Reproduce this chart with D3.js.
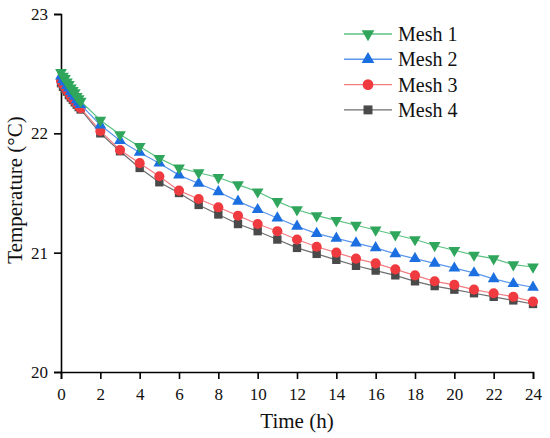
<!DOCTYPE html>
<html>
<head>
<meta charset="utf-8">
<script src="https://cdn.jsdelivr.net/npm/d3@7"></script>
<style>
  body { margin: 0; background: #fff; }
  text { font-family: "Liberation Serif", "Times New Roman", serif; fill: #111; }
</style>
</head>
<body>
<div class="chart"></div>
<script>
// time points: every 0.1 h for the first hour, then hourly
let times = [0, 0.1, 0.2, 0.3, 0.4, 0.5, 0.6, 0.7, 0.8, 0.9, 1,
  2, 3, 4, 5, 6, 7, 8, 9, 10, 11, 12, 13, 14, 15, 16, 17, 18, 19, 20, 21, 22, 23, 24];

let mesh1 = [22.51, 22.48, 22.46, 22.43, 22.41, 22.38, 22.36, 22.34, 22.31, 22.29, 22.27,
  22.11, 21.99, 21.89, 21.79, 21.71, 21.67, 21.63, 21.57, 21.51, 21.43, 21.36, 21.31, 21.27,
  21.23, 21.19, 21.15, 21.11, 21.06, 21.02, 20.98, 20.95, 20.90, 20.88];
let mesh2 = [22.48, 22.45, 22.43, 22.40, 22.38, 22.35, 22.33, 22.31, 22.28, 22.26, 22.24,
  22.07, 21.94, 21.84, 21.75, 21.65, 21.58, 21.51, 21.43, 21.36, 21.29, 21.22, 21.16, 21.12,
  21.08, 21.04, 20.99, 20.95, 20.91, 20.87, 20.83, 20.78, 20.74, 20.71];
let mesh3 = [22.44, 22.41, 22.39, 22.36, 22.34, 22.31, 22.29, 22.27, 22.25, 22.23, 22.21,
  22.02, 21.86, 21.75, 21.64, 21.52, 21.45, 21.38, 21.31, 21.24, 21.18, 21.11, 21.05, 21.00,
  20.95, 20.91, 20.86, 20.81, 20.76, 20.73, 20.69, 20.66, 20.63, 20.59];
let mesh4 = [22.42, 22.39, 22.37, 22.35, 22.32, 22.30, 22.28, 22.26, 22.24, 22.22, 22.20,
  22.00, 21.85, 21.71, 21.59, 21.50, 21.40, 21.32, 21.24, 21.18, 21.11, 21.04, 20.99, 20.94,
  20.89, 20.85, 20.81, 20.76, 20.72, 20.69, 20.66, 20.63, 20.60, 20.57];

let seriesNames = ["Mesh 1", "Mesh 2", "Mesh 3", "Mesh 4"];
let seriesValues = [mesh1, mesh2, mesh3, mesh4];

let xTicks = [0, 2, 4, 6, 8, 10, 12, 14, 16, 18, 20, 22, 24];
let yTicks = [20, 21, 22, 23];

let styles = [
  { marker: "#2fa65b", line: "#5cc282", shape: d3.symbolTriangle, size: 60, rotate: 180 },
  { marker: "#1b6fe0", line: "#5b97ec", shape: d3.symbolTriangle, size: 60, rotate: 0 },
  { marker: "#ef3a3f", line: "#f27c80", shape: d3.symbolCircle, size: 80, rotate: 0 },
  { marker: "#4a4a4a", line: "#6e6e6e", shape: d3.symbolSquare, size: 70, rotate: 0 }
];

let svgWidth = 550;
let svgHeight = 438;

let margin = { top: 14, right: 17, bottom: 66, left: 61 };
let width = svgWidth - margin.left - margin.right;
let height = svgHeight - margin.top - margin.bottom;

let svg = d3.select(".chart")
  .append("svg")
  .attr("width", svgWidth)
  .attr("height", svgHeight);

let chartGroup = svg.append("g")
  .attr("transform", `translate(${margin.left}, ${margin.top})`);

let xScale = d3.scaleLinear().domain([0, 24]).range([0, width]);
let yScale = d3.scaleLinear().domain([20, 23]).range([height, 0]);

let bottomAxis = d3.axisBottom(xScale).tickValues(xTicks).tickFormat(d3.format("d"))
  .tickSize(7).tickPadding(9);
let leftAxis = d3.axisLeft(yScale).tickValues(yTicks).tickFormat(d3.format("d"))
  .tickSize(7).tickPadding(6);

let xAxis = chartGroup.append("g")
  .attr("transform", `translate(0, ${height})`)
  .call(bottomAxis);

let yAxis = chartGroup.append("g")
  .call(leftAxis);

[xAxis, yAxis].forEach(function(ax) {
  ax.attr("font-family", "Liberation Serif").attr("font-size", 17);
  ax.select(".domain").attr("stroke", "#000").attr("stroke-width", 1.6);
  ax.selectAll(".tick line").attr("stroke", "#000").attr("stroke-width", 1.6);
  ax.selectAll(".tick text").attr("fill", "#222");
});

// draw Mesh 4 first so Mesh 1 sits on top
let line = d3.line()
  .x(d => xScale(d.t))
  .y(d => yScale(d.v));

for (let i = seriesValues.length - 1; i >= 0; i--) {
  let pts = times.map((t, j) => ({ t: t, v: seriesValues[i][j] }));
  let st = styles[i];

  chartGroup.append("path")
    .datum(pts)
    .attr("fill", "none")
    .attr("stroke", st.line)
    .attr("stroke-width", 1.2)
    .attr("d", line);

  chartGroup.selectAll(".pt" + i)
    .data(pts)
    .enter()
    .append("path")
    .attr("class", "pt" + i)
    .attr("d", d3.symbol().type(st.shape).size(st.size))
    .attr("fill", st.marker)
    .attr("transform", d => `translate(${xScale(d.t)}, ${yScale(d.v)}) rotate(${st.rotate})`);
}

// legend
let legend = svg.append("g")
  .attr("transform", "translate(344, 34)");

seriesNames.forEach(function(name, i) {
  let st = styles[i];
  let row = legend.append("g").attr("transform", `translate(0, ${i * 25.3})`);
  row.append("line")
    .attr("x1", 0).attr("x2", 48)
    .attr("y1", 0).attr("y2", 0)
    .attr("stroke", st.line)
    .attr("stroke-width", 1.4);
  row.append("path")
    .attr("d", d3.symbol().type(st.shape).size(st.size + 10))
    .attr("fill", st.marker)
    .attr("transform", `translate(24, 0) rotate(${st.rotate})`);
  row.append("text")
    .attr("x", 54)
    .attr("y", 7)
    .style("font-size", "20px")
    .text(name);
});

// axis titles
chartGroup.append("text")
  .attr("x", width / 2)
  .attr("y", height + 56)
  .attr("text-anchor", "middle")
  .style("font-size", "21px")
  .text("Time (h)");

chartGroup.append("text")
  .attr("transform", "rotate(-90)")
  .attr("x", 0 - height / 2 + 3)
  .attr("y", 0 - margin.left + 22)
  .attr("text-anchor", "middle")
  .style("font-size", "21px")
  .text("Temperature (°C)");
</script>
</body>
</html>
